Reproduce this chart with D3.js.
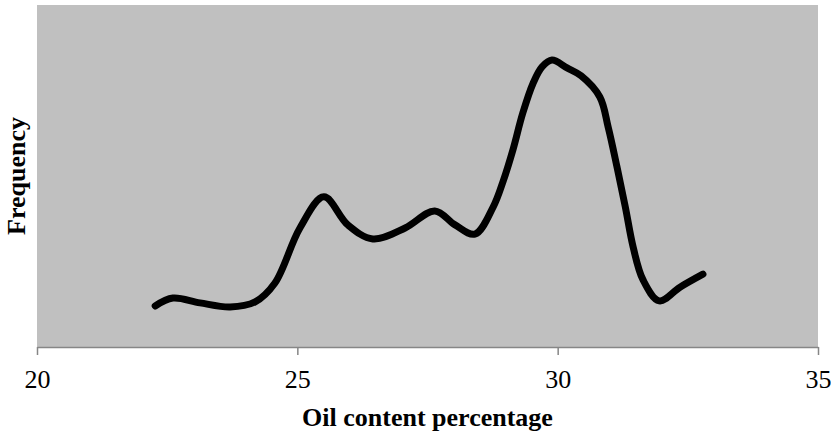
<!DOCTYPE html>
<html>
<head>
<meta charset="utf-8">
<script src="https://cdn.jsdelivr.net/npm/d3@7"></script>
<style>
  body { margin: 0; background: #fff; }
  text { font-family: "Times New Roman", "Liberation Serif", serif; }
</style>
</head>
<body>
<svg></svg>
<script>
// Chart size
const width = 831, height = 436;
const margin = { top: 5, right: 13, bottom: 89, left: 37 };

// Data (oil content %, relative frequency)
const oilContent = [22.27, 22.61, 23.13, 23.71, 24.19, 24.57, 25.05, 25.51, 25.97, 26.45,
  27.07, 27.64, 28.03, 28.41, 28.76, 28.96, 29.14, 29.33, 29.53,
  29.70, 29.89, 30.18, 30.45, 30.81, 30.97, 31.14, 31.30, 31.45,
  31.64, 31.95, 32.35, 32.79];
const frequency = [12.0, 14.3, 12.9, 11.7, 13.2, 18.7, 34.8, 43.9, 35.7, 31.6,
  34.8, 39.8, 35.7, 33.0, 40.9, 48.8, 57.6, 68.4, 77.2,
  81.9, 83.9, 81.6, 79.3, 73.1, 64.3, 52.6, 40.9, 29.2,
  19.6, 13.5, 17.5, 21.3];
const xTicks = [20, 25, 30, 35];

const svg = d3.select("svg")
  .attr("width", width)
  .attr("height", height);

const x = d3.scaleLinear()
  .domain([20, 35])
  .range([margin.left, width - margin.right]);

const y = d3.scaleLinear()
  .domain([0, 100])
  .range([height - margin.bottom, margin.top]);

// Gray plot area
svg.append("rect")
  .attr("x", margin.left)
  .attr("y", margin.top)
  .attr("width", width - margin.left - margin.right)
  .attr("height", height - margin.top - margin.bottom)
  .attr("fill", "#c0c0c0");

// X axis
const xAxis = svg.append("g")
  .attr("transform", `translate(0, ${height - margin.bottom})`)
  .call(d3.axisBottom(x).tickValues(xTicks).tickSize(8).tickSizeOuter(0));

xAxis.attr("font-family", null);
xAxis.select(".domain").attr("stroke", "#868686").attr("stroke-width", 1.5);
xAxis.selectAll(".tick line").attr("stroke", "#868686").attr("stroke-width", 1.5);
xAxis.selectAll(".tick text")
  .attr("fill", "#000")
  .attr("y", 41)
  .attr("dy", 0)
  .style("font-size", "26px")
  .style("font-family", "'Times New Roman', 'Liberation Serif', serif");

// Axis titles
svg.append("text")
  .attr("x", (margin.left + width - margin.right) / 2)
  .attr("y", 426)
  .attr("text-anchor", "middle")
  .style("font-size", "26px")
  .style("font-weight", "bold")
  .text("Oil content percentage");

svg.append("text")
  .attr("transform", `translate(25, ${(margin.top + height - margin.bottom) / 2}) rotate(-90)`)
  .attr("text-anchor", "middle")
  .style("font-size", "26px")
  .style("font-weight", "bold")
  .text("Frequency");

// Smoothed frequency line
const points = oilContent.map((d, i) => [d, frequency[i]]);
const line = d3.line()
  .x(d => x(d[0]))
  .y(d => y(d[1]))
  .curve(d3.curveCatmullRom.alpha(0.5));

svg.append("path")
  .datum(points)
  .attr("d", line)
  .attr("fill", "none")
  .attr("stroke", "#000")
  .attr("stroke-width", 7)
  .attr("stroke-linecap", "round")
  .attr("stroke-linejoin", "round");
</script>
</body>
</html>
